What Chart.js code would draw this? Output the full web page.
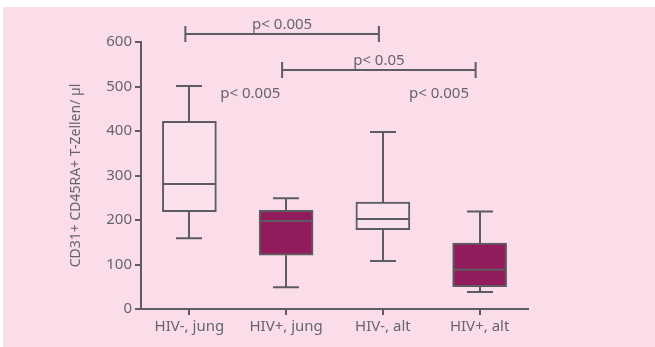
<!DOCTYPE html>
<html>
<head>
<meta charset="utf-8">
<script src="https://cdn.jsdelivr.net/npm/chart.js@4"></script>
<style>
  html, body { margin: 0; padding: 0; background: #fff; }
  #bg { position: absolute; left: 3px; top: 7px; width: 652px; height: 340px; background: #fadde8; }
  #wrap { position: absolute; left: 0; top: 0; width: 655px; height: 347px; }
</style>
</head>
<body>
<div id="bg"></div>
<div id="wrap"><canvas id="chart"></canvas></div>
<script>
// --- data ---
const categories = ['HIV-, jung', 'HIV+, jung', 'HIV-, alt', 'HIV+, alt'];
const whiskerMin = [159, 49, 108, 38];
const q1 = [219, 121, 178, 50];
const median = [281, 198, 202, 88];
const q3 = [422, 222, 240, 148];
const whiskerMax = [501, 249, 398, 219];
const filled = [false, true, false, true];

// significance brackets (category index from/to, level on y axis)
const bracketFrom = [0, 1];
const bracketTo = [2, 3];
const bracketLevel = [618, 537];
const bracketLabels = ['p< 0.005', 'p< 0.05'];

// free-standing p-value notes (category position, y value)
const noteX = [0.63, 2.58];
const noteY = [483, 483];
const noteLabels = ['p< 0.005', 'p< 0.005'];

const yTitle = 'CD31+ CD45RA+ T-Zellen/ µl';

const LINE = '#5d5c62';
const TEXT = '#66656b';
const FILL = '#921c5b';
const OPEN = '#fbe1ec';
const FONT = "'Noto Sans', sans-serif";

// whiskers, medians and p-value annotations
const boxPlugin = {
    id: 'boxExtras',
    afterDatasetsDraw(chart) {
        const { ctx, scales: { x, y } } = chart;
        ctx.save();
        ctx.strokeStyle = LINE;
        ctx.lineWidth = 2;

        categories.forEach((c, i) => {
            const cx = Math.round(x.getPixelForValue(i));
            const capHalf = 13;
            const boxHalf = 26;
            ctx.beginPath();
            // upper whisker
            ctx.moveTo(cx, y.getPixelForValue(q3[i]));
            ctx.lineTo(cx, y.getPixelForValue(whiskerMax[i]));
            ctx.moveTo(cx - capHalf, y.getPixelForValue(whiskerMax[i]));
            ctx.lineTo(cx + capHalf, y.getPixelForValue(whiskerMax[i]));
            // lower whisker
            ctx.moveTo(cx, y.getPixelForValue(q1[i]));
            ctx.lineTo(cx, y.getPixelForValue(whiskerMin[i]));
            ctx.moveTo(cx - capHalf, y.getPixelForValue(whiskerMin[i]));
            ctx.lineTo(cx + capHalf, y.getPixelForValue(whiskerMin[i]));
            // median
            ctx.moveTo(cx - boxHalf, y.getPixelForValue(median[i]));
            ctx.lineTo(cx + boxHalf, y.getPixelForValue(median[i]));
            ctx.stroke();
        });

        ctx.fillStyle = TEXT;
        ctx.font = `15px ${FONT}`;
        ctx.textAlign = 'center';

        bracketFrom.forEach((from, k) => {
            const x1 = x.getPixelForValue(from) - 4;
            const x2 = x.getPixelForValue(bracketTo[k]) - 4;
            const by = Math.round(y.getPixelForValue(bracketLevel[k]));
            ctx.beginPath();
            ctx.moveTo(x1, by); ctx.lineTo(x2, by);
            ctx.moveTo(x1, by - 8); ctx.lineTo(x1, by + 8);
            ctx.moveTo(x2, by - 8); ctx.lineTo(x2, by + 8);
            ctx.stroke();
            ctx.textBaseline = 'bottom';
            ctx.fillText(bracketLabels[k], (x1 + x2) / 2, by - 2);
        });

        ctx.textBaseline = 'middle';
        noteLabels.forEach((t, k) => {
            ctx.fillText(t, x.getPixelForValue(noteX[k]), y.getPixelForValue(noteY[k]));
        });
        ctx.restore();
    }
};

new Chart(document.getElementById('chart'), {
    type: 'bar',
    data: {
        labels: categories,
        datasets: [{
            data: q1.map((v, i) => [v, q3[i]]),
            backgroundColor: filled.map(f => f ? FILL : OPEN),
            borderColor: LINE,
            borderWidth: 2,
            borderSkipped: false,
            barThickness: 54
        }]
    },
    options: {
        responsive: true,
        maintainAspectRatio: false,
        animation: false,
        layout: { padding: { top: 42, right: 127, left: 0, bottom: 0 } },
        plugins: {
            legend: { display: false },
            tooltip: { enabled: false }
        },
        scales: {
            x: {
                afterFit: s => { s.height = 38; },
                border: { color: LINE, width: 2 },
                grid: { offset: false, drawOnChartArea: false, tickLength: 6, color: LINE, lineWidth: 2 },
                ticks: { color: TEXT, font: { family: FONT, size: 15 }, padding: 3 }
            },
            y: {
                min: 0,
                max: 600,
                afterFit: s => { s.width = 141; },
                border: { color: LINE, width: 2 },
                grid: { drawOnChartArea: false, tickLength: 6, color: LINE, lineWidth: 2 },
                ticks: { stepSize: 100, color: TEXT, font: { family: FONT, size: 15 }, padding: 3 },
                title: {
                    display: true,
                    text: yTitle,
                    color: TEXT,
                    font: { family: FONT, size: 14 },
                    padding: { top: 68, bottom: 0 }
                }
            }
        }
    },
    plugins: [boxPlugin]
});
</script>
</body>
</html>
